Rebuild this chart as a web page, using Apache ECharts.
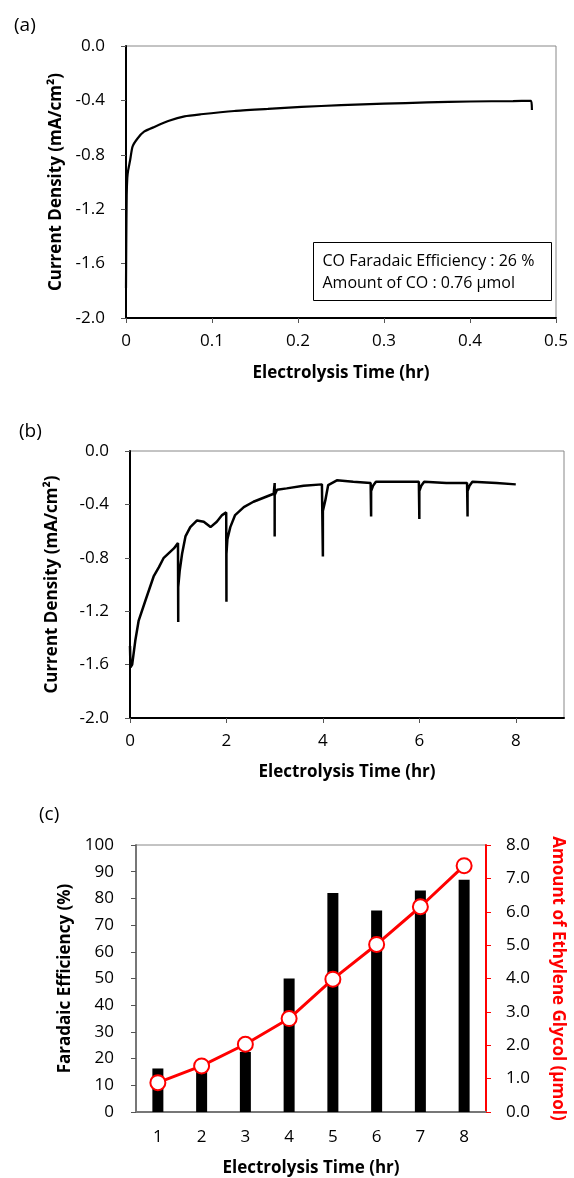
<!DOCTYPE html>
<html>
<head>
<meta charset="utf-8">
<script src="https://cdn.jsdelivr.net/npm/echarts@6/dist/echarts.min.js"></script>
<style>
  html, body { margin: 0; padding: 0; background: #fff; }
  #chart { width: 574px; height: 1178px; }
</style>
</head>
<body>
<div id="chart"></div>
<script>
// (a) single electrolysis run
var timeA = [0, 0.0003, 0.0008, 0.0015, 0.0025, 0.0048, 0.0076, 0.0134, 0.021, 0.033, 0.05, 0.068, 0.087, 0.126, 0.165, 0.204, 0.25, 0.3, 0.35, 0.4, 0.45, 0.471, 0.472];
var currentA = [-1.78, -1.45, -1.1, -0.97, -0.915, -0.84, -0.74, -0.68, -0.63, -0.595, -0.55, -0.517, -0.502, -0.478, -0.463, -0.448, -0.435, -0.424, -0.415, -0.408, -0.405, -0.403, -0.47];

// (b) repeated hourly runs
var timeB = [0, 0.01, 0.045, 0.11, 0.18, 0.32, 0.49, 0.6, 0.7, 0.91, 0.995,
  1.0, 1.0, 1.03, 1.08, 1.15, 1.25, 1.39, 1.53, 1.67, 1.8, 1.91, 1.995,
  2.0, 2.0, 2.02, 2.08, 2.18, 2.36, 2.56, 2.77, 2.98,
  3.0, 3.0, 3.0, 3.05, 3.25, 3.6, 3.98,
  4.0, 4.0, 4.05, 4.11, 4.29, 4.63, 4.99,
  5.0, 5.0, 5.04, 5.1, 5.53, 5.99,
  6.0, 6.0, 6.04, 6.1, 6.56, 6.99,
  7.0, 7.0, 7.04, 7.1, 7.6, 8.0];
var currentB = [-1.46, -1.62, -1.6, -1.42, -1.27, -1.12, -0.94, -0.87, -0.8, -0.73, -0.69,
  -1.28, -1.02, -0.9, -0.77, -0.64, -0.57, -0.52, -0.53, -0.57, -0.53, -0.48, -0.46,
  -1.13, -0.77, -0.66, -0.57, -0.48, -0.42, -0.38, -0.35, -0.32,
  -0.24, -0.64, -0.33, -0.29, -0.28, -0.26, -0.25,
  -0.79, -0.45, -0.37, -0.255, -0.22, -0.23, -0.24,
  -0.49, -0.3, -0.26, -0.23, -0.23, -0.23,
  -0.51, -0.3, -0.26, -0.23, -0.24, -0.24,
  -0.49, -0.3, -0.26, -0.23, -0.24, -0.25];

// (c) faradaic efficiency and ethylene glycol amount
var hours = ['1', '2', '3', '4', '5', '6', '7', '8'];
var faradaicEff = [16.3, 15.4, 22.5, 50, 82, 75.5, 83, 87];
var glycolAmount = [0.88, 1.38, 2.03, 2.8, 3.98, 5.02, 6.15, 7.38];

function zip(xs, ys) {
  var out = [];
  for (var i = 0; i < xs.length; i++) out.push([xs[i], ys[i]]);
  return out;
}

var FONT = '"Open Sans"';

function valueAxis(extra) {
  var base = {
    type: 'value',
    splitLine: { show: false },
    axisLine: { show: true, onZero: false, lineStyle: { color: '#000', width: 2 } },
    axisTick: { show: true, inside: false, length: 5, lineStyle: { color: '#555', width: 1 } },
    axisLabel: { color: '#000', fontSize: 17, fontFamily: FONT },
    nameLocation: 'middle',
    nameTextStyle: { color: '#000', fontSize: 17, fontWeight: 'bold', fontFamily: FONT }
  };
  for (var k in extra) base[k] = extra[k];
  return base;
}

var chart = echarts.init(document.getElementById('chart'));

var panelLabel = { fontSize: 19, fontWeight: 'normal', color: '#000', fontFamily: FONT };

var option = {
  animation: false,
  backgroundColor: '#fff',
  title: [
    { text: '(a)', left: 9, top: 11, textStyle: panelLabel },
    { text: '(b)', left: 14, top: 417, textStyle: panelLabel },
    { text: '(c)', left: 34, top: 800, textStyle: panelLabel }
  ],
  grid: [
    { left: 126, top: 46, width: 430, height: 272, show: true, borderColor: '#888', borderWidth: 1 },
    { left: 130, top: 451, width: 434, height: 267, show: true, borderColor: '#888', borderWidth: 1 },
    { left: 136, top: 845, width: 354, height: 267, show: true, borderColor: '#888', borderWidth: 1 }
  ],
  xAxis: [
    valueAxis({
      gridIndex: 0, min: 0, max: 0.5, interval: 0.1,
      axisLabel: { color: '#000', fontSize: 17, fontFamily: FONT, margin: 15 },
      name: 'Electrolysis Time (hr)', nameGap: 47
    }),
    valueAxis({
      gridIndex: 1, min: 0, max: 9, interval: 2,
      axisLabel: { color: '#000', fontSize: 17, fontFamily: FONT, margin: 15, showMaxLabel: false },
      name: 'Electrolysis Time (hr)', nameGap: 46
    }),
    {
      gridIndex: 2, type: 'category', data: hours,
      axisLine: { show: true, onZero: false, lineStyle: { color: '#777', width: 2 } },
      axisTick: { show: false },
      axisLabel: { color: '#000', fontSize: 17, fontFamily: FONT, margin: 17 },
      name: 'Electrolysis Time (hr)', nameLocation: 'middle', nameGap: 48,
      nameTextStyle: { color: '#000', fontSize: 17, fontWeight: 'bold', fontFamily: FONT }
    }
  ],
  yAxis: [
    valueAxis({
      gridIndex: 0, min: -2, max: 0, interval: 0.4,
      axisLabel: { color: '#000', fontSize: 17, fontFamily: FONT, margin: 21,
        formatter: function (v) { return v.toFixed(1); } },
      name: 'Current Density (mA/cm²)', nameGap: 59
    }),
    valueAxis({
      gridIndex: 1, min: -2, max: 0, interval: 0.4,
      axisLabel: { color: '#000', fontSize: 17, fontFamily: FONT, margin: 21,
        formatter: function (v) { return v.toFixed(1); } },
      name: 'Current Density (mA/cm²)', nameGap: 69
    }),
    valueAxis({
      gridIndex: 2, min: 0, max: 100, interval: 10,
      axisLine: { show: true, onZero: false, lineStyle: { color: '#777', width: 2 } },
      axisLabel: { color: '#000', fontSize: 17, fontFamily: FONT, margin: 22 },
      name: 'Faradaic Efficiency (%)', nameGap: 59
    }),
    valueAxis({
      gridIndex: 2, position: 'right', min: 0, max: 8, interval: 1,
      axisLine: { show: true, onZero: false, lineStyle: { color: '#ff0000', width: 2 } },
      axisTick: { show: true, length: 5, lineStyle: { color: '#ff0000', width: 1 } },
      axisLabel: { color: '#000', fontSize: 17, fontFamily: FONT, margin: 20,
        formatter: function (v) { return v.toFixed(1); } },
      name: 'Amount of Ethylene Glycol (μmol)', nameGap: 63, nameRotate: -90,
      nameTextStyle: { color: '#ff0000', fontSize: 17, fontWeight: 'bold', fontFamily: FONT }
    })
  ],
  graphic: [
    {
      type: 'group', left: 313, top: 242,
      children: [
        { type: 'rect', shape: { x: 0, y: 0, width: 238, height: 58 },
          style: { fill: '#fff', stroke: '#000', lineWidth: 1 } },
        { type: 'text', x: 9, y: 19,
          style: { text: 'CO Faradaic Efficiency : 26 %', fill: '#000', font: '16px "Open Sans"', verticalAlign: 'middle' } },
        { type: 'text', x: 9, y: 41,
          style: { text: 'Amount of CO : 0.76 μmol', fill: '#000', font: '16px "Open Sans"', verticalAlign: 'middle' } }
      ]
    }
  ],
  series: [
    {
      name: 'run a', type: 'line', xAxisIndex: 0, yAxisIndex: 0,
      data: zip(timeA, currentA), showSymbol: false, symbol: 'none', smooth: 0.2,
      lineStyle: { color: '#000', width: 2.2 }
    },
    {
      name: 'run b', type: 'line', xAxisIndex: 1, yAxisIndex: 1,
      data: zip(timeB, currentB), showSymbol: false, symbol: 'none',
      lineStyle: { color: '#000', width: 2.5 }
    },
    {
      name: 'Faradaic Efficiency', type: 'bar', xAxisIndex: 2, yAxisIndex: 2,
      data: faradaicEff, barWidth: 11,
      itemStyle: { color: '#000' }
    },
    {
      name: 'Ethylene Glycol', type: 'line', xAxisIndex: 2, yAxisIndex: 3,
      data: glycolAmount, symbol: 'circle', symbolSize: 15,
      lineStyle: { color: '#ff0000', width: 3 },
      itemStyle: { color: '#fff', borderColor: '#ff0000', borderWidth: 2 },
      z: 3
    }
  ]
};

chart.setOption(option);
</script>
</body>
</html>
